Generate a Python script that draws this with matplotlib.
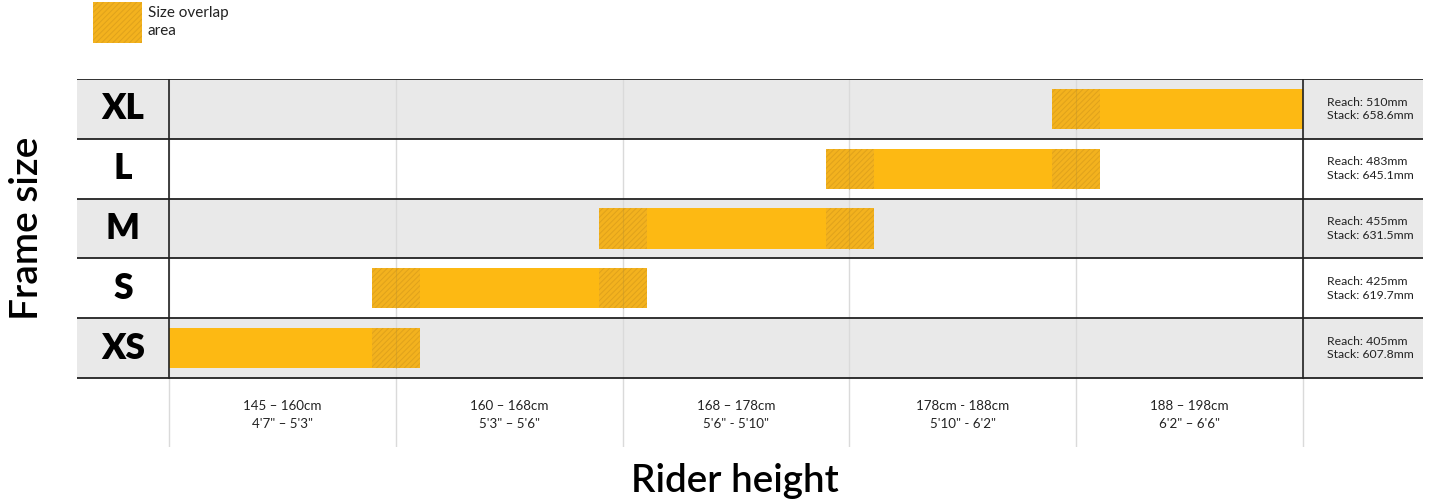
import matplotlib
matplotlib.use('Agg')
import matplotlib.pyplot as plt
from matplotlib.patches import Rectangle

plt.rcParams['font.family'] = ['Lato', 'DejaVu Sans']
plt.rcParams['hatch.linewidth'] = 0.7

# ---- data ----
sizes = ['XS', 'S', 'M', 'L', 'XL']
# rider height ranges, expressed in column units of the height grid below
bar_start = [0.0, 0.895, 1.895, 2.895, 3.895]
bar_end = [1.107, 2.107, 3.107, 4.107, 5.0]
reach = ['405mm', '425mm', '455mm', '483mm', '510mm']
stack = ['607.8mm', '619.7mm', '631.5mm', '645.1mm', '658.6mm']
height_cm = ['145 – 160cm', '160 – 168cm', '168 – 178cm', '178cm - 188cm', '188 – 198cm']
height_ft = ['4\'7" – 5\'3"', '5\'3" – 5\'6"', '5\'6" - 5\'10"', '5\'10" - 6\'2"', '6\'2" – 6\'6"']

ORANGE = '#FDB913'
HATCH_FACE = '#F3B21E'
HATCH_EDGE = '#DFA21C'
GREY = '#E9E9E9'
DARK = '#222222'

W, H = 1440, 503
fig = plt.figure(figsize=(W / 100, H / 100), dpi=100)

# table axes, positioned in pixel units of the reference
left_px, right_px, top_px, bot_px = 77, 1423, 79, 447
ax = fig.add_axes([left_px / W, 1 - bot_px / H, (right_px - left_px) / W, (bot_px - top_px) / H])
col_w = (1303 - 169) / 5
row_h = (378 - 79) / 5
ax.set_xlim((left_px - 169) / col_w, (right_px - 169) / col_w)
ax.set_ylim(-0.5 - (bot_px - 378) / row_h, 4.5)
ax.axis('off')

n_cols = len(height_cm)

# row backgrounds
for i, s in enumerate(sizes):
    if i % 2 == 0:
        ax.axhspan(i - 0.5, i + 0.5, color=GREY, lw=0, zorder=0)

# light column grid
for c in range(n_cols + 1):
    ax.axvline(c, color='#DADADA', lw=1, zorder=1)

# size bars
bar_h = 0.67
ax.barh(range(len(sizes)), [e - s for s, e in zip(bar_start, bar_end)], left=bar_start,
        height=bar_h, color=ORANGE, lw=0, zorder=2)

# overlap between neighbouring sizes
for i in range(len(sizes) - 1):
    o0, o1 = bar_start[i + 1], bar_end[i]
    for row in (i, i + 1):
        ax.add_patch(Rectangle((o0, row - bar_h / 2), o1 - o0, bar_h, facecolor=HATCH_FACE,
                               edgecolor=HATCH_EDGE, hatch='//////', lw=0, zorder=3))
        # grid line shows faintly through the hatched area
        for c in range(n_cols + 1):
            if o0 < c < o1:
                ax.plot([c, c], [row - bar_h / 2, row + bar_h / 2], color='#B89030',
                        lw=0.8, alpha=0.35, zorder=4)

# dark table rules
for b in range(len(sizes) + 1):
    ax.axhline(b - 0.5, color=DARK, lw=1.3, zorder=5)
for c in (0, n_cols):
    ax.plot([c, c], [-0.5, 4.5], color=DARK, lw=1.2, zorder=5)

# size labels
lab_x = ((left_px + 169) / 2 - 169) / col_w
for i, s in enumerate(sizes):
    ax.text(lab_x, i, s, ha='center', va='center', fontsize=25.5, fontweight='heavy', color='black', zorder=6)

# geometry info
info_x = (1327 - 169) / col_w
for i in range(len(sizes)):
    ax.text(info_x, i, f'Reach: {reach[i]}\nStack: {stack[i]}', ha='left', va='center',
            fontsize=8.8, color='#222222', linespacing=1.3, zorder=6)

# column labels
lbl_y = -0.5 - (415 - 378) / row_h
for c in range(n_cols):
    ax.text(c + 0.5, lbl_y, f'{height_cm[c]}\n{height_ft[c]}', ha='center', va='center',
            fontsize=9.6, color='#222222', linespacing=1.55)

# axis titles
fig.text(27 / W, 1 - 228 / H, 'Frame size', rotation=90, ha='center', va='center',
         fontsize=28, fontweight='semibold', color='black')
fig.text(735 / W, 1 - 481 / H, 'Rider height', ha='center', va='center',
         fontsize=27.8, fontweight='semibold', color='black')

# legend
fig.patches.append(Rectangle((93 / W, 1 - 43 / H), 49 / W, 41 / H, transform=fig.transFigure,
                             facecolor=HATCH_FACE, edgecolor=HATCH_EDGE, hatch='//////', lw=0))
fig.text(148 / W, 1 - 22 / H, 'Size overlap\narea', ha='left', va='center', fontsize=11,
         color='#222222', linespacing=1.3)

fig.savefig('out.png', dpi=100)
